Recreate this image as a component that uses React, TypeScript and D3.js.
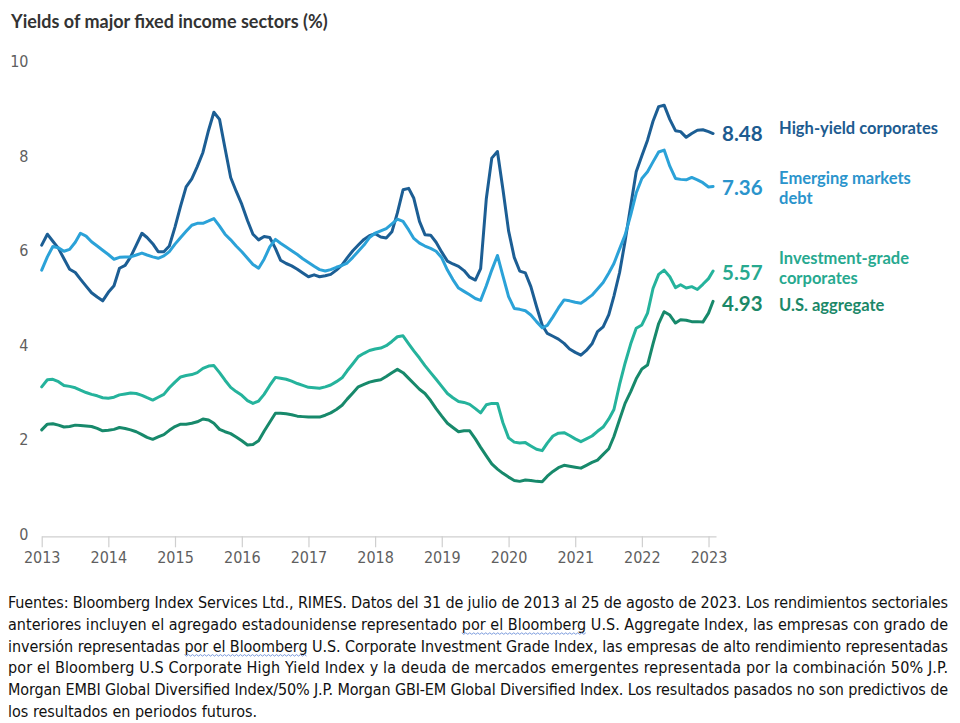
import * as React from 'react';
import * as d3 from 'd3';

// month-end dates, Jul 2013 .. Jul 2023, plus the last observation (25 Aug 2023)
const dates: Date[] = d3.range(121).map(i => new Date(2013, 7 + i, 0)).concat([new Date(2023, 7, 25)]);

const highYield = [
  6.12, 6.35, 6.20, 6.05, 5.83, 5.61, 5.54, 5.40, 5.25, 5.11, 5.02, 4.94,
  5.12, 5.26, 5.63, 5.69, 5.87, 6.12, 6.37, 6.28, 6.15, 5.98, 5.98, 6.10,
  6.50, 6.95, 7.35, 7.52, 7.78, 8.08, 8.55, 8.93, 8.78, 8.17, 7.55, 7.26,
  6.98, 6.64, 6.35, 6.23, 6.30, 6.28, 6.05, 5.80, 5.73, 5.68, 5.61, 5.53,
  5.45, 5.49, 5.45, 5.47, 5.50, 5.59, 5.70, 5.85, 6.00, 6.12, 6.24, 6.32,
  6.36, 6.29, 6.27, 6.40, 6.80, 7.29, 7.32, 7.11, 6.62, 6.34, 6.33, 6.18,
  5.97, 5.78, 5.72, 5.67, 5.58, 5.44, 5.38, 5.62, 7.10, 7.96, 8.10, 7.30,
  6.42, 5.86, 5.57, 5.53, 5.24, 4.82, 4.43, 4.25, 4.19, 4.13, 4.04, 3.92,
  3.85, 3.79, 3.89, 4.03, 4.29, 4.39, 4.65, 5.04, 5.54, 6.20, 6.95, 7.67,
  8.01, 8.34, 8.74, 9.05, 9.08, 8.78, 8.54, 8.52, 8.40, 8.48, 8.55, 8.56,
  8.52, 8.48,
];

const emergingDebt = [
  5.59, 5.87, 6.09, 6.06, 5.99, 6.03, 6.18, 6.37, 6.31, 6.19, 6.10, 6.01,
  5.92, 5.82, 5.86, 5.87, 5.87, 5.91, 5.95, 5.91, 5.87, 5.84, 5.89, 5.98,
  6.14, 6.28, 6.41, 6.54, 6.58, 6.58, 6.63, 6.68, 6.52, 6.35, 6.23, 6.10,
  5.98, 5.84, 5.71, 5.63, 5.82, 6.08, 6.24, 6.16, 6.08, 6.00, 5.92, 5.83,
  5.75, 5.67, 5.60, 5.57, 5.60, 5.65, 5.69, 5.74, 5.86, 5.99, 6.12, 6.28,
  6.37, 6.42, 6.47, 6.57, 6.67, 6.62, 6.44, 6.26, 6.16, 6.10, 6.05, 5.99,
  5.85, 5.59, 5.39, 5.21, 5.14, 5.07, 4.99, 4.95, 5.26, 5.59, 5.90, 5.47,
  5.03, 4.78, 4.76, 4.73, 4.64, 4.50, 4.37, 4.42, 4.60, 4.79, 4.96, 4.94,
  4.91, 4.89, 4.97, 5.06, 5.19, 5.33, 5.53, 5.73, 6.04, 6.33, 6.76, 7.22,
  7.53, 7.67, 7.88, 8.09, 8.13, 7.79, 7.53, 7.51, 7.50, 7.55, 7.50, 7.44,
  7.35, 7.36,
];

const investmentGrade = [
  3.12, 3.27, 3.28, 3.23, 3.15, 3.13, 3.10, 3.05, 3.00, 2.96, 2.93, 2.89,
  2.88, 2.90, 2.95, 2.97, 2.99, 2.98, 2.94, 2.89, 2.84, 2.90, 2.96, 3.10,
  3.22, 3.33, 3.36, 3.38, 3.42, 3.51, 3.56, 3.57, 3.42, 3.26, 3.11, 3.02,
  2.94, 2.83, 2.77, 2.82, 2.96, 3.15, 3.32, 3.30, 3.28, 3.24, 3.19, 3.15,
  3.11, 3.10, 3.09, 3.12, 3.16, 3.23, 3.31, 3.46, 3.61, 3.76, 3.83, 3.89,
  3.92, 3.94, 3.99, 4.08, 4.18, 4.20, 4.03, 3.88, 3.73, 3.57, 3.42, 3.28,
  3.13, 2.98, 2.89, 2.81, 2.79, 2.75, 2.66, 2.57, 2.74, 2.77, 2.77, 2.36,
  2.04, 1.95, 1.93, 1.94, 1.87, 1.80, 1.77, 1.93, 2.08, 2.14, 2.15, 2.09,
  2.02, 1.96, 2.02, 2.08, 2.18, 2.27, 2.44, 2.64, 3.17, 3.62, 4.03, 4.36,
  4.43, 4.68, 5.20, 5.50, 5.59, 5.45, 5.22, 5.28, 5.21, 5.24, 5.18, 5.29,
  5.41, 5.57,
];

const usAggregate = [
  2.21, 2.33, 2.34, 2.31, 2.27, 2.28, 2.31, 2.30, 2.29, 2.28, 2.24, 2.19,
  2.20, 2.22, 2.26, 2.24, 2.21, 2.17, 2.11, 2.05, 2.01, 2.06, 2.11, 2.20,
  2.28, 2.33, 2.33, 2.35, 2.38, 2.44, 2.42, 2.35, 2.22, 2.17, 2.13, 2.06,
  1.98, 1.89, 1.90, 1.98, 2.18, 2.37, 2.56, 2.56, 2.55, 2.53, 2.50, 2.49,
  2.48, 2.48, 2.48, 2.52, 2.57, 2.64, 2.73, 2.86, 2.99, 3.12, 3.17, 3.22,
  3.25, 3.27, 3.34, 3.42, 3.49, 3.42, 3.30, 3.19, 3.07, 2.98, 2.83, 2.66,
  2.50, 2.35, 2.26, 2.17, 2.19, 2.19, 2.02, 1.84, 1.66, 1.49, 1.38, 1.29,
  1.21, 1.14, 1.12, 1.15, 1.14, 1.12, 1.11, 1.23, 1.33, 1.41, 1.46, 1.44,
  1.42, 1.40, 1.46, 1.52, 1.57, 1.69, 1.81, 2.07, 2.43, 2.77, 3.02, 3.29,
  3.50, 3.58, 4.03, 4.46, 4.71, 4.64, 4.47, 4.54, 4.53, 4.50, 4.50, 4.49,
  4.68, 4.93,
];

const yearTicks = d3.range(2013, 2024);
const yTicks = [0, 2, 4, 6, 8, 10];

const series = [
  { key: 'hy', values: highYield, color: '#1c5e94', label: '#1d5b90', name: ['High-yield corporates'], nameDy: [0], valueDy: 7 },
  { key: 'em', values: emergingDebt, color: '#2ba2d8', label: '#2a94cc', name: ['Emerging markets', 'debt'], nameDy: [-2, 17.5], valueDy: 9 },
  { key: 'ig', values: investmentGrade, color: '#25b39c', label: '#27a98f', name: ['Investment-grade', 'corporates'], nameDy: [-7, 12.5], valueDy: 9 },
  { key: 'us', values: usAggregate, color: '#17896b', label: '#1b8868', name: ['U.S. aggregate'], nameDy: [10], valueDy: 10 },
];

const footnote = [
  'Fuentes: Bloomberg Index Services Ltd., RIMES. Datos del 31 de julio de 2013 al 25 de agosto de 2023. Los rendimientos sectoriales',
  'anteriores incluyen el agregado estadounidense representado por el Bloomberg U.S. Aggregate Index, las empresas con grado de',
  'inversión representadas por el Bloomberg U.S. Corporate Investment Grade Index, las empresas de alto rendimiento representadas',
  'por el Bloomberg U.S Corporate High Yield Index y la deuda de mercados emergentes representada por la combinación 50% J.P.',
  'Morgan EMBI Global Diversified Index/50% J.P. Morgan GBI-EM Global Diversified Index. Los resultados pasados no son predictivos de',
  'los resultados en periodos futuros.',
];
// spell-check squiggles in the source document
const squiggled = [null, 'por el Bloomberg', 'por el Bloomberg', null, null, null];

const sans = "Lato, 'Noto Sans', sans-serif";
const narrow = "'Liberation Sans Narrow', 'DejaVu Sans Condensed', sans-serif";

export default function App() {
  const ref = React.useRef<SVGSVGElement | null>(null);

  React.useEffect(() => {
    document.body.style.margin = '0';
    if (!ref.current) return;
    const svg = d3.select(ref.current);
    svg.selectAll('*').remove();

    const x = d3.scaleTime()
      .domain([new Date(2013, 6, 31), new Date(2023, 8, 10)])
      .range([41.7, 716]);
    const y = d3.scaleLinear().domain([0, 10]).range([534.3, 61.7]);

    svg.append('text')
      .attr('x', 11).attr('y', 28)
      .attr('font-family', sans).attr('font-weight', 700).attr('font-size', 18)
      .attr('fill', '#333').text('Yields of major fixed income sectors (%)');

    // y labels, no axis line
    svg.append('g').selectAll('text').data(yTicks).join('text')
      .attr('x', 28.5).attr('y', d => y(d)).attr('dy', '0.35em')
      .attr('text-anchor', 'end')
      .attr('font-family', narrow).attr('font-size', 16).attr('fill', '#5f5f5f')
      .text(d => d);

    const ax = d3.axisBottom(x)
      .tickValues(yearTicks.map(yr => new Date(yr, 6, 31)))
      .tickFormat(d => String((d as Date).getFullYear()))
      .tickSize(11).tickSizeOuter(0).tickPadding(4);
    const g = svg.append('g').attr('transform', `translate(0,${y(0) + 2})`).call(ax as any);
    g.select('.domain').attr('stroke', '#cfcfcf').attr('stroke-width', 1.2);
    g.selectAll('.tick line').attr('stroke', '#cfcfcf').attr('stroke-width', 1.2);
    g.selectAll('.tick text')
      .attr('font-family', narrow).attr('font-size', 16).attr('fill', '#5f5f5f');

    const line = d3.line<number>()
      .x((_, i) => x(dates[i]))
      .y(d => y(d));

    series.forEach(s => {
      svg.append('path')
        .attr('fill', 'none')
        .attr('stroke', s.color)
        .attr('stroke-width', 3)
        .attr('stroke-linejoin', 'round')
        .attr('stroke-linecap', 'round')
        .attr('d', line(s.values) || '');

      const last = s.values[s.values.length - 1];
      const ly = y(last);
      const xEnd = x(dates[dates.length - 1]);
      svg.append('text')
        .attr('x', xEnd + 9).attr('y', ly + s.valueDy)
        .attr('font-family', sans).attr('font-weight', 700).attr('font-size', 20.5)
        .attr('fill', s.label).text(last.toFixed(2));
      s.name.forEach((n, i) => {
        svg.append('text')
          .attr('x', xEnd + 66).attr('y', ly + s.nameDy[i])
          .attr('font-family', sans).attr('font-weight', 700).attr('font-size', 16.5)
          .attr('fill', s.label).text(n);
      });
    });

    const fn = svg.append('g')
      .attr('font-family', narrow).attr('font-size', 16).attr('fill', '#111');
    footnote.forEach((t, i) => {
      const baseY = 608 + i * 21.8;
      const tx = fn.append('text').attr('x', 8).attr('y', baseY).text(t);
      if (i < footnote.length - 1) tx.attr('textLength', 940).attr('lengthAdjust', 'spacing');
      const word = squiggled[i];
      if (!word) return;
      const node = tx.node() as SVGTextElement;
      const at = t.indexOf(word);
      try {
        const x0 = node.getStartPositionOfChar(at).x;
        const x1 = node.getEndPositionOfChar(at + word.length - 1).x;
        const pts: [number, number][] = d3.range(x0, x1, 2).map((px, k) => [px, baseY + 3 + (k % 2 ? 1.5 : 0)]);
        fn.append('path')
          .attr('d', d3.line()(pts) || '')
          .attr('fill', 'none').attr('stroke', '#6b8fd8').attr('stroke-width', 0.9);
      } catch (e) {
        // no layout info, skip squiggle
      }
    });
  }, []);

  return <svg ref={ref} width={960} height={723} viewBox="0 0 960 723" style={{ display: 'block', background: '#fff' }} />;
}
